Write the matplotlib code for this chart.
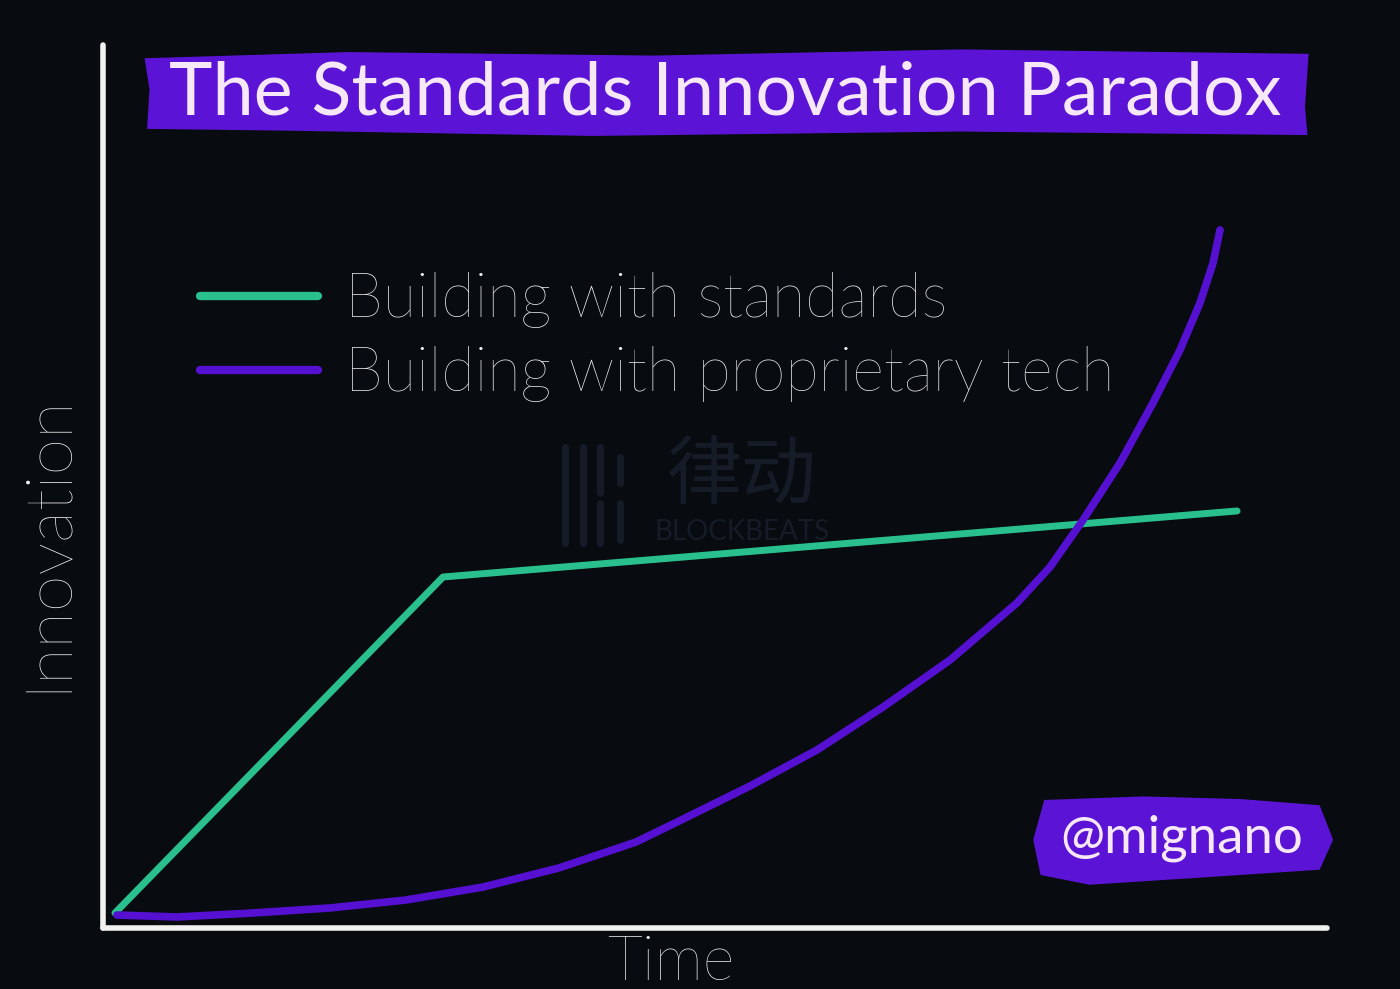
import matplotlib
matplotlib.use("Agg")
import matplotlib.pyplot as plt
from matplotlib.patches import Polygon
from matplotlib.lines import Line2D

# ---- data ----
standards_time = [0.98, 27.78, 92.65]
standards_innov = [1.70, 39.75, 47.23]

proprietary_time = [1.14, 6.05, 12.25, 18.55, 24.75, 31.05, 37.25, 43.55, 46.90, 52.86,
                    58.33, 63.73, 69.20, 74.67, 77.37, 80.07, 83.09, 85.78, 87.99, 89.62,
                    90.69, 91.26]
proprietary_innov = [1.47, 1.25, 1.70, 2.27, 3.17, 4.64, 6.80, 9.74, 12.00, 16.08,
                     20.16, 25.03, 30.35, 36.81, 40.88, 46.21, 52.66, 59.46, 65.46, 70.78,
                     75.31, 79.05]

series_labels = ["Building with standards", "Building with proprietary tech"]
title_text = "The Standards Innovation Paradox"
x_label = "Time"
y_label = "Innovation"
handle_text = "@mignano"
watermark_cn = "律动"
watermark_en = "BLOCKBEATS"

# ---- style ----
BG = "#080b10"
GREEN = "#29c08e"
PURPLE = "#5510d2"
BOX = "#5b14d6"
TXT = "#f6e8f6"
WHITE = "#f2f2f0"
WM = "#151c28"
FONT = ["Lato", "DejaVu Sans"]

fig = plt.figure(figsize=(14, 9.89), dpi=100, facecolor=BG)
ax = fig.add_axes([103/1400, 61/989, 1224/1400, 883/989])
ax.set_zorder(1)
ax.patch.set_visible(False)
ax.set_xlim(0, 100)
ax.set_ylim(0, 100)
for s in ["top", "right"]:
    ax.spines[s].set_visible(False)
for s in ["left", "bottom"]:
    ax.spines[s].set_color(WHITE)
    ax.spines[s].set_linewidth(4)
    ax.spines[s].set_capstyle("round")
ax.set_xticks([])
ax.set_yticks([])

# watermark (behind the chart)
fig.text(742/1400, 1 - 476/989, watermark_cn, color=WM, fontsize=54,
         family=["Noto Sans CJK SC", "DejaVu Sans"], weight="normal",
         ha="center", va="center", zorder=0)
fig.text(742/1400, 1 - 532/989, watermark_en, color=WM, fontsize=20,
         family=FONT, weight="normal", ha="center", va="center", zorder=0)
for xs, segs in [(565, [(447, 543)]), (583, [(447, 543)]),
                 (600, [(447, 493), (503, 543)]), (620, [(457, 483), (503, 540)])]:
    for y0, y1 in segs:
        fig.add_artist(Line2D([xs/1400, xs/1400], [1 - y0/989, 1 - y1/989],
                              color=WM, lw=5, solid_capstyle="round", zorder=0))

l1, = ax.plot(standards_time, standards_innov, color=GREEN, lw=5,
              solid_capstyle="round", solid_joinstyle="round", label=series_labels[0])
l2, = ax.plot(proprietary_time, proprietary_innov, color=PURPLE, lw=5.5,
              solid_capstyle="round", solid_joinstyle="round", label=series_labels[1])

leg = ax.legend(handles=[l1, l2], loc="upper left", bbox_to_anchor=(0.0792, 0.743),
                frameon=False, handlelength=1.93, handletextpad=0.44,
                labelspacing=0.3, borderpad=0, borderaxespad=0,
                prop={"family": FONT, "weight": "light", "size": 44})
for t in leg.get_texts():
    t.set_color(WHITE)
for h in leg.get_lines():
    h.set_linewidth(6)
    h.set_solid_capstyle("round")

# title box
tb = [(0.034, 0.985), (0.20, 0.992), (0.45, 0.988), (0.70, 0.995), (0.985, 0.99),
      (0.982, 0.93), (0.984, 0.898), (0.70, 0.902), (0.40, 0.897), (0.15, 0.903),
      (0.036, 0.905), (0.038, 0.95)]
ax.add_patch(Polygon(tb, closed=True, transform=ax.transAxes, facecolor=BOX,
                     edgecolor="none", clip_on=False, zorder=3))
ax.text(0.508, 0.945, title_text, transform=ax.transAxes, ha="center", va="center",
        color=TXT, fontsize=53, family=FONT, weight="normal", zorder=4)

# handle box
hb = [(0.769, 0.145), (0.85, 0.149), (0.93, 0.146), (0.994, 0.139), (1.005, 0.10),
      (0.994, 0.066), (0.896, 0.057), (0.806, 0.049), (0.766, 0.060), (0.760, 0.10)]
ax.add_patch(Polygon(hb, closed=True, transform=ax.transAxes, facecolor=BOX,
                     edgecolor="none", clip_on=False, zorder=3))
ax.text(0.8815, 0.102, handle_text, transform=ax.transAxes, ha="center", va="center",
        color=TXT, fontsize=38, family=FONT, weight="normal", zorder=4)

# axis labels
fig.text(671/1400, 1 - 980/989, x_label, color=WHITE, fontsize=44, family=FONT,
         weight="light", ha="center", va="baseline")
fig.text(47/1400, 1 - 543/989, y_label, color=WHITE, fontsize=48, family=FONT,
         weight="light", ha="center", va="center", rotation=90)

fig.savefig("out.png", dpi=100, facecolor=BG)
